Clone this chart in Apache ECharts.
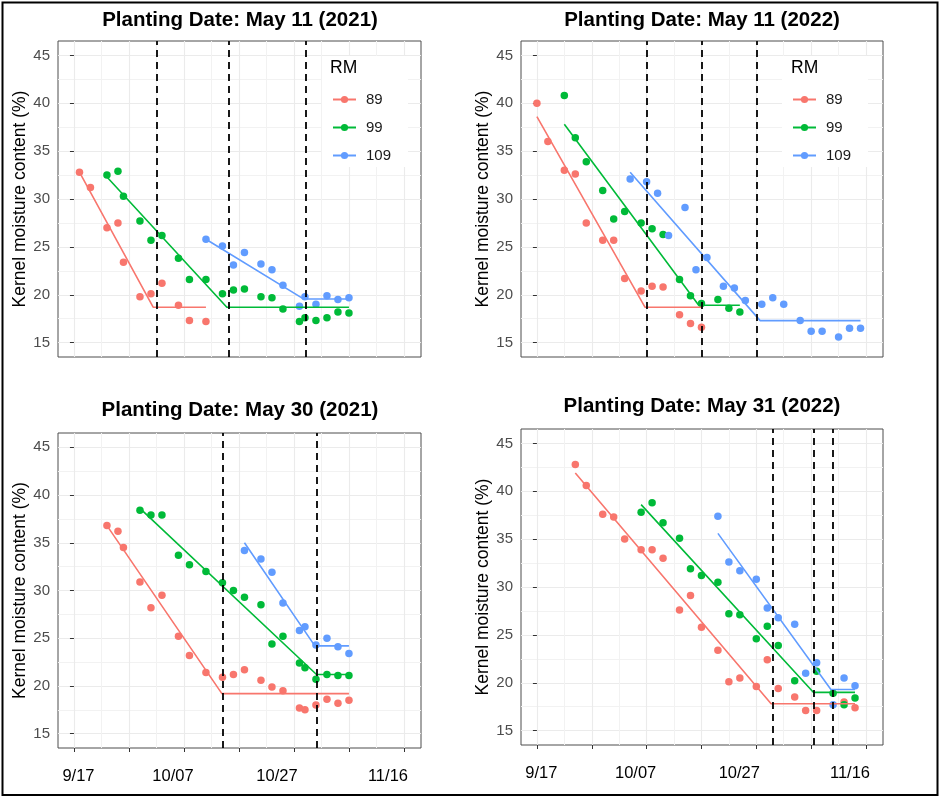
<!DOCTYPE html>
<html><head><meta charset="utf-8">
<script src="https://cdn.jsdelivr.net/npm/echarts@6.0.0/dist/echarts.min.js"></script>
<style>html,body{margin:0;padding:0;background:#fff}#c{width:942px;height:798px}</style>
</head><body><div id="c"></div>
<script>
// ---- Data: x = days after 9/17, y = kernel moisture content (%) ----
// Panel 1: Planting Date May 11 (2021)
const p1_89_day = [1, 3, 6, 8, 9, 12, 14, 16, 19, 21, 24];
const p1_89_mc  = [32.8, 31.2, 27.0, 27.5, 23.4, 19.8, 20.1, 21.2, 18.9, 17.3, 17.2];
const p1_89_fitDay = [1, 14.4, 24];
const p1_89_fitMc  = [32.8, 18.7, 18.7];
const p1_99_day = [6, 8, 9, 12, 14, 16, 19, 21, 24, 27, 29, 31, 34, 36, 38, 41, 42, 44, 46, 48, 50];
const p1_99_mc  = [32.5, 32.9, 30.3, 27.7, 25.7, 26.2, 23.8, 21.6, 21.6, 20.1, 20.5, 20.6, 19.8, 19.7, 18.5, 17.2, 17.6, 17.3, 17.6, 18.2, 18.1];
const p1_99_fitDay = [6, 27.8, 50];
const p1_99_fitMc  = [32.3, 18.7, 18.7];
const p1_109_day = [24, 27, 29, 31, 34, 36, 38, 41, 42, 44, 46, 48, 50];
const p1_109_mc  = [25.8, 25.1, 23.1, 24.4, 23.2, 22.6, 21.0, 18.8, 19.8, 19.0, 19.9, 19.5, 19.7];
const p1_109_fitDay = [24, 41.8, 50];
const p1_109_fitMc  = [25.8, 19.55, 19.55];
const p1_vlines = [15.1, 28.1, 42.1];

// Panel 2: Planting Date May 11 (2022)
const p2_89_day = [0, 2, 5, 7, 9, 12, 14, 16, 19, 21, 23, 26, 28, 30];
const p2_89_mc  = [40.0, 36.0, 33.0, 32.6, 27.5, 25.7, 25.7, 21.7, 20.4, 20.9, 20.8, 17.9, 17.0, 16.6];
const p2_89_fitDay = [0, 19.7, 30];
const p2_89_fitMc  = [38.6, 18.7, 18.7];
const p2_99_day = [5, 7, 9, 12, 14, 16, 19, 21, 23, 26, 28, 30, 33, 35, 37];
const p2_99_mc  = [40.8, 36.4, 33.9, 30.9, 27.9, 28.7, 27.5, 26.9, 26.3, 21.6, 19.9, 19.1, 19.5, 18.6, 18.2];
const p2_99_fitDay = [5, 29.5, 37];
const p2_99_fitMc  = [37.8, 18.9, 18.9];
const p2_109_day = [17, 20, 22, 24, 27, 29, 31, 34, 36, 38, 41, 43, 45, 48, 50, 52, 55, 57, 59];
const p2_109_mc  = [32.1, 31.8, 30.6, 26.2, 29.1, 22.6, 23.9, 20.9, 20.7, 19.4, 19.0, 19.7, 19.0, 17.3, 16.2, 16.2, 15.6, 16.5, 16.5];
const p2_109_fitDay = [17, 40.7, 59];
const p2_109_fitMc  = [32.8, 17.3, 17.3];
const p2_vlines = [20, 30, 40];

// Panel 3: Planting Date May 30 (2021)
const p3_89_day = [6, 8, 9, 12, 14, 16, 19, 21, 24, 27, 29, 31, 34, 36, 38, 41, 42, 44, 46, 48, 50];
const p3_89_mc  = [36.8, 36.2, 34.5, 30.9, 28.2, 29.5, 25.2, 23.2, 21.4, 20.9, 21.2, 21.7, 20.6, 19.9, 19.5, 17.7, 17.5, 18.0, 18.6, 18.2, 18.5];
const p3_89_fitDay = [6, 26.9, 50];
const p3_89_fitMc  = [36.8, 19.2, 19.2];
const p3_99_day = [12, 14, 16, 19, 21, 24, 27, 29, 31, 34, 36, 38, 41, 42, 44, 46, 48, 50];
const p3_99_mc  = [38.4, 37.9, 37.9, 33.7, 32.7, 32.0, 30.8, 30.0, 29.3, 28.5, 24.4, 25.2, 22.4, 21.9, 20.7, 21.2, 21.1, 21.1];
const p3_99_fitDay = [12, 44.1, 50];
const p3_99_fitMc  = [38.6, 21.2, 21.2];
const p3_109_day = [31, 34, 36, 38, 41, 42, 44, 46, 48, 50];
const p3_109_mc  = [34.2, 33.3, 31.9, 28.7, 25.8, 26.2, 24.3, 25.0, 24.1, 23.4];
const p3_109_fitDay = [31, 43.8, 50];
const p3_109_fitMc  = [35.0, 24.2, 24.2];
const p3_vlines = [27.1, 44.1];

// Panel 4: Planting Date May 31 (2022)
const p4_89_day = [7, 9, 12, 14, 16, 19, 21, 23, 26, 28, 30, 33, 35, 37, 40, 42, 44, 47, 49, 51, 56, 58];
const p4_89_mc  = [42.8, 40.6, 37.6, 37.3, 35.0, 33.9, 33.9, 33.0, 27.6, 29.1, 25.8, 23.4, 20.1, 20.5, 19.6, 22.4, 19.4, 18.5, 17.1, 17.1, 18.0, 17.4];
const p4_89_fitDay = [7, 42.7, 58];
const p4_89_fitMc  = [41.9, 17.8, 17.8];
const p4_99_day = [19, 21, 23, 26, 28, 30, 33, 35, 37, 40, 42, 44, 47, 51, 54, 56, 58];
const p4_99_mc  = [37.8, 38.8, 36.7, 35.1, 31.9, 31.2, 30.5, 27.2, 27.1, 24.6, 25.9, 23.9, 20.2, 21.2, 18.9, 17.7, 18.4];
const p4_99_fitDay = [19, 50.4, 58];
const p4_99_fitMc  = [38.6, 19.0, 19.0];
const p4_109_day = [33, 35, 37, 40, 42, 44, 47, 49, 51, 54, 56, 58];
const p4_109_mc  = [37.4, 32.6, 31.7, 30.8, 27.8, 26.8, 26.1, 21.0, 22.1, 17.7, 20.5, 19.7];
const p4_109_fitDay = [33, 53.6, 58];
const p4_109_fitMc  = [35.6, 19.3, 19.3];
const p4_vlines = [43.0, 50.5, 54];

// Categories, ticks and labels
const rmNames = ['89', '99', '109'];
const panelTitles = ['Planting Date: May 11 (2021)', 'Planting Date: May 11 (2022)',
                     'Planting Date: May 30 (2021)', 'Planting Date: May 31 (2022)'];
const xMajorTicks = [0, 10, 20, 30, 40, 50, 60];
const xMinorTicks = [5, 15, 25, 35, 45, 55];
const xLabelDays  = [0, 20, 40, 60];
const xLabelText  = ['9/17', '10/07', '10/27', '11/16'];
const yMajorTicks = [15, 20, 25, 30, 35, 40, 45];
const yMinorTicks = [17.5, 22.5, 27.5, 32.5, 37.5, 42.5];
const yAxisTitle = 'Kernel moisture content (%)';
const legendTitle = 'RM';

// ---- Layout / style ----
const FONT = '"Liberation Sans", Arial, Helvetica, sans-serif';
const COLORS = ['#F8766D', '#00BA38', '#619CFF'];
const X_MIN = -2.9, X_MAX = 63.1, Y_MIN = 13.5, Y_MAX = 46.5;
// horizontal nudges of the date labels (as placed in the original figure), via rich-text padding
const LABEL_PAD = [[0, 0, 0, 9], [0, 22, 0, 0], [0, 34, 0, 0], [0, 32, 0, 0]];

const panels = [
  { grid: {left: 58, top: 41, width: 363, height: 316}, titleX: 240, titleTop: 10, bottom: false,
    legend: {left: 322, top: 56}, rmX: 330,
    sets: [[p1_89_day, p1_89_mc, p1_89_fitDay, p1_89_fitMc], [p1_99_day, p1_99_mc, p1_99_fitDay, p1_99_fitMc], [p1_109_day, p1_109_mc, p1_109_fitDay, p1_109_fitMc]],
    vlines: p1_vlines },
  { grid: {left: 521, top: 41, width: 362, height: 316}, titleX: 702, titleTop: 10, bottom: false,
    legend: {left: 782, top: 56}, rmX: 791,
    sets: [[p2_89_day, p2_89_mc, p2_89_fitDay, p2_89_fitMc], [p2_99_day, p2_99_mc, p2_99_fitDay, p2_99_fitMc], [p2_109_day, p2_109_mc, p2_109_fitDay, p2_109_fitMc]],
    vlines: p2_vlines },
  { grid: {left: 58, top: 433, width: 363, height: 315}, titleX: 240, titleTop: 400, bottom: true,
    sets: [[p3_89_day, p3_89_mc, p3_89_fitDay, p3_89_fitMc], [p3_99_day, p3_99_mc, p3_99_fitDay, p3_99_fitMc], [p3_109_day, p3_109_mc, p3_109_fitDay, p3_109_fitMc]],
    vlines: p3_vlines },
  { grid: {left: 521, top: 429, width: 362, height: 316}, titleX: 702, titleTop: 396, bottom: true,
    sets: [[p4_89_day, p4_89_mc, p4_89_fitDay, p4_89_fitMc], [p4_99_day, p4_99_mc, p4_99_fitDay, p4_99_fitMc], [p4_109_day, p4_109_mc, p4_109_fitDay, p4_109_fitMc]],
    vlines: p4_vlines }
];

const zip = (a, b) => a.map((v, i) => [v, b[i]]);

const labelRich = {};
LABEL_PAD.forEach((pad, j) => {
  labelRich['l' + j] = {fontFamily: FONT, fontSize: 16.5, color: '#000', padding: pad};
});

const grid = [], xAxis = [], yAxis = [], series = [], title = [], legend = [], graphic = [];

panels.forEach((p, i) => {
  grid.push(Object.assign({show: true, backgroundColor: '#fff', borderColor: '#4d4d4d', borderWidth: 1}, p.grid));
  title.push({text: panelTitles[i], left: p.titleX, top: p.titleTop, textAlign: 'center', padding: 0,
    textStyle: {fontFamily: FONT, fontSize: 20.5, fontWeight: 'bold', color: '#000'}});
  // major x axis
  xAxis.push({gridIndex: i, type: 'value', min: X_MIN, max: X_MAX, position: 'bottom',
    axisLine: {show: false},
    axisTick: {show: p.bottom, customValues: xMajorTicks, length: 4, lineStyle: {color: '#333', width: 1}},
    axisLabel: {show: p.bottom, customValues: xLabelDays, margin: 20,
      formatter: v => { const j = xLabelDays.indexOf(v); return j < 0 ? '' : '{l' + j + '|' + xLabelText[j] + '}'; },
      rich: labelRich,
      fontFamily: FONT, fontSize: 16.5, color: '#000'},
    splitLine: {show: true, lineStyle: {color: '#EBEBEB', width: 1.1}}
  });
  // minor x gridlines
  xAxis.push({gridIndex: i, type: 'value', min: X_MIN, max: X_MAX, position: 'top',
    axisLine: {show: false}, axisLabel: {show: false},
    axisTick: {show: false, customValues: xMinorTicks},
    splitLine: {show: true, lineStyle: {color: '#F2F2F2', width: 1}}
  });
  yAxis.push({gridIndex: i, type: 'value', min: Y_MIN, max: Y_MAX, position: 'left',
    name: yAxisTitle, nameLocation: 'middle', nameGap: 29,
    nameTextStyle: {fontFamily: FONT, fontSize: 17.5, color: '#000'},
    axisLine: {show: false},
    axisTick: {show: true, customValues: yMajorTicks, length: 4, lineStyle: {color: '#333', width: 1}},
    axisLabel: {show: true, customValues: yMajorTicks, margin: 8, fontFamily: FONT, fontSize: 15, color: '#4D4D4D'},
    splitLine: {show: true, lineStyle: {color: '#EBEBEB', width: 1.1}}
  });
  yAxis.push({gridIndex: i, type: 'value', min: Y_MIN, max: Y_MAX, position: 'right',
    axisLine: {show: false}, axisLabel: {show: false},
    axisTick: {show: false, customValues: yMinorTicks},
    splitLine: {show: true, lineStyle: {color: '#F2F2F2', width: 1}}
  });

  p.sets.forEach((s, k) => {
    series.push({type: 'line', name: rmNames[k], xAxisIndex: 2 * i, yAxisIndex: 2 * i,
      data: zip(s[2], s[3]), symbol: 'circle', showSymbol: false, symbolSize: 7,
      lineStyle: {color: COLORS[k], width: 1.6}, itemStyle: {color: COLORS[k]},
      silent: true, z: 3});
  });
  p.sets.forEach((s, k) => {
    series.push({type: 'scatter', name: rmNames[k], xAxisIndex: 2 * i, yAxisIndex: 2 * i,
      data: zip(s[0], s[1]), symbol: 'circle', symbolSize: 7.5,
      itemStyle: {color: COLORS[k], opacity: 1}, silent: true, z: 2});
  });
  series.push({type: 'line', xAxisIndex: 2 * i, yAxisIndex: 2 * i, data: [], z: 5, silent: true,
    markLine: {silent: true, symbol: ['none', 'none'], label: {show: false},
      lineStyle: {type: [7, 5], color: '#000', width: 1.8},
      emphasis: {disabled: true},
      data: p.vlines.map(v => ({xAxis: v}))}
  });

  if (p.legend) {
    legend.push({left: p.legend.left, top: p.legend.top, orient: 'vertical',
      data: rmNames, selectedMode: false, backgroundColor: '#fff',
      itemWidth: 23, itemHeight: 9, itemGap: 13, padding: [36, 17, 4, 10],
      textStyle: {fontFamily: FONT, fontSize: 15, color: '#1a1a1a', padding: [0, 0, 0, 5]}});
    graphic.push({type: 'text', x: p.rmX, y: 68.5, z: 100,
      style: {text: legendTitle, fontFamily: FONT, fontSize: 17.5, fill: '#000',
        align: 'left', verticalAlign: 'middle', textAlign: 'left', textVerticalAlign: 'middle'}});
  }
});

graphic.push({type: 'rect', z: 100, shape: {x: 2.5, y: 2.5, width: 935, height: 792.5},
  style: {fill: 'none', stroke: '#000', lineWidth: 2}});

const chart = echarts.init(document.getElementById('c'), null, {renderer: 'canvas'});
chart.setOption({
  animation: false,
  backgroundColor: '#fff',
  title, grid, xAxis, yAxis, legend, series, graphic
});
</script></body></html>
